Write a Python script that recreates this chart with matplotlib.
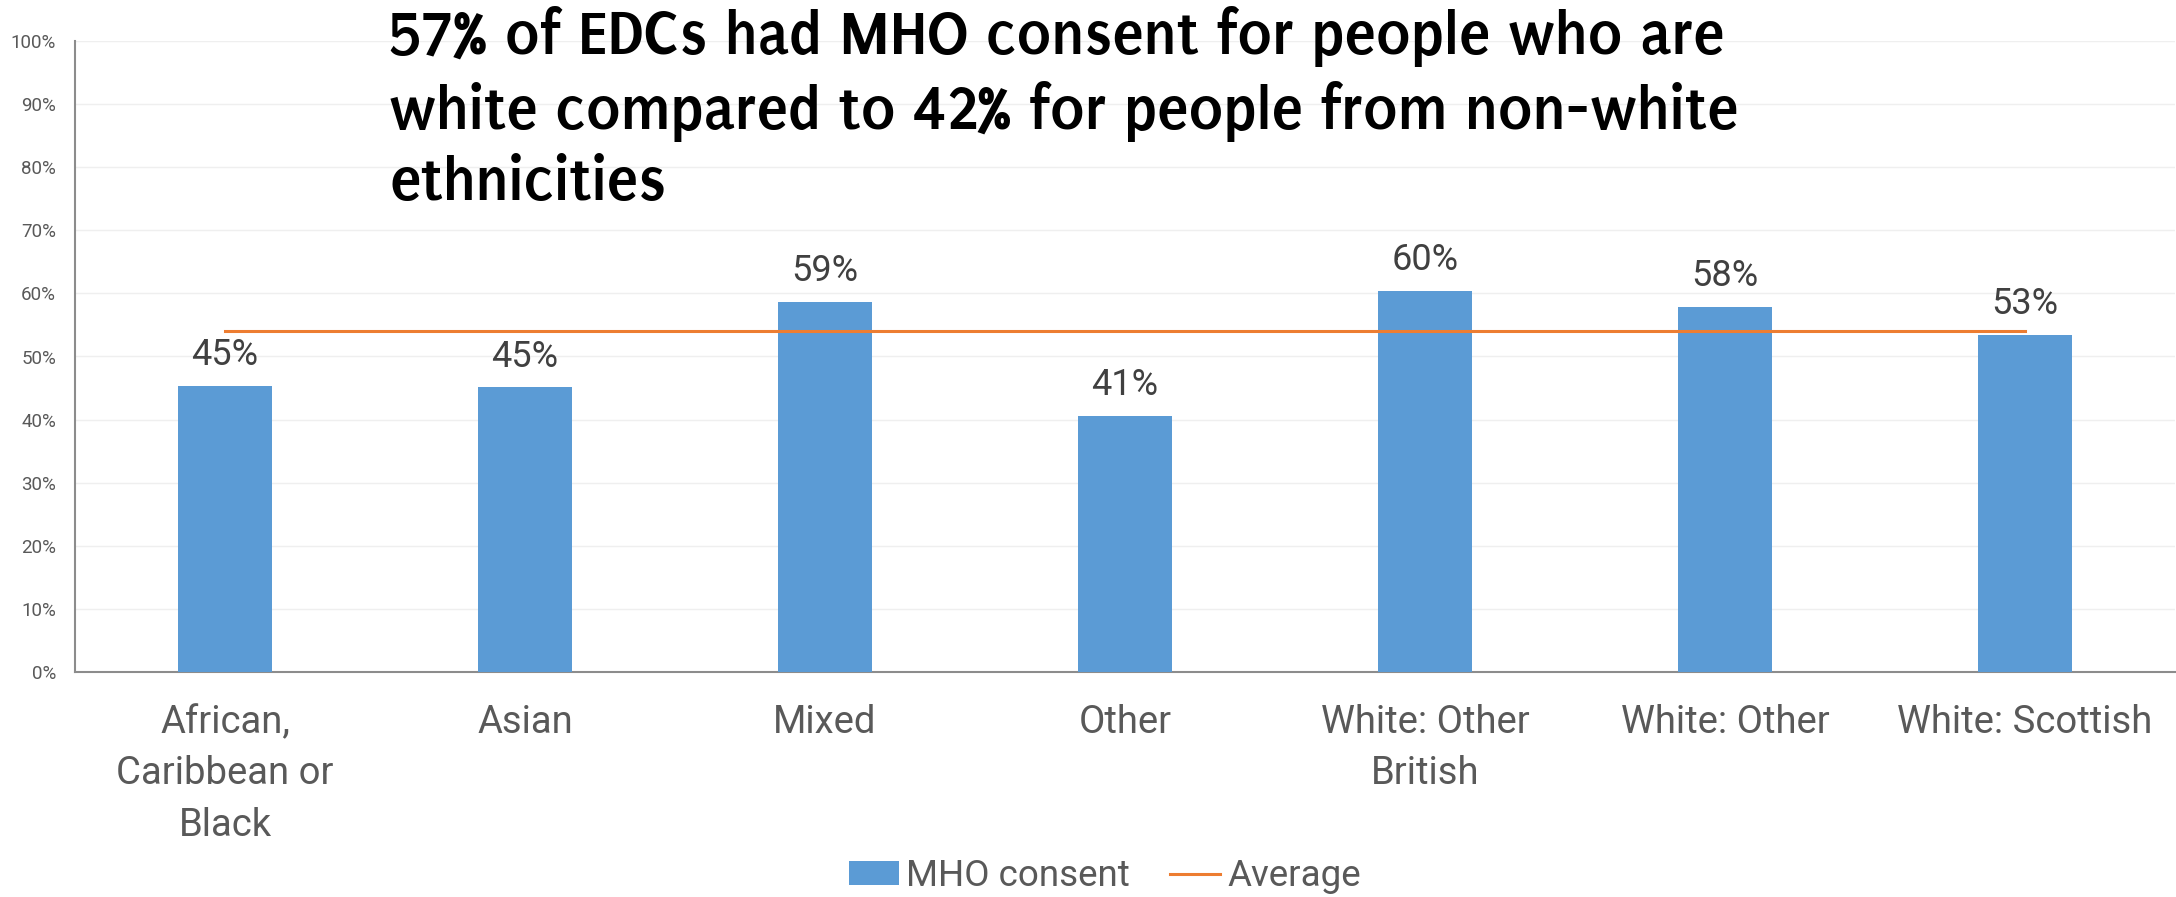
import matplotlib
matplotlib.use("Agg")
import matplotlib.pyplot as plt
from matplotlib import font_manager
from matplotlib.font_manager import FontProperties
from matplotlib.patches import Patch
from matplotlib.lines import Line2D
from matplotlib.ticker import PercentFormatter, MultipleLocator

categories = ["African,\nCaribbean or\nBlack", "Asian", "Mixed", "Other",
              "White: Other\nBritish", "White: Other", "White: Scottish"]
mho_consent = [45.4, 45.1, 58.6, 40.6, 60.4, 57.8, 53.4]
bar_labels = ["45%", "45%", "59%", "41%", "60%", "58%", "53%"]
average = 54.0
title_lines = ["57% of EDCs had MHO consent for people who are",
               "white compared to 42% for people from non-white",
               "ethnicities"]

plt.rcParams['font.family'] = ['Roboto', 'DejaVu Sans']

fig = plt.figure(figsize=(21.76, 8.97), dpi=100)
W, H = 2176, 897
ax = fig.add_axes([75 / W, 1 - 672 / H, 2100 / W, (672 - 41) / H])

x = list(range(len(categories)))
ax.bar(x, mho_consent, width=0.313, color="#5B9BD5", zorder=3)
ax.plot([x[0], x[-1]], [average, average], color="#ED7D31", lw=2.2, zorder=4)

for xi, v, lab in zip(x, mho_consent, bar_labels):
    ax.annotate(lab, (xi, v), xytext=(0, 15), textcoords="offset points",
                ha="center", va="baseline", fontsize=26, color="#404040", zorder=5)

ax.set_xlim(-0.5, len(categories) - 0.5)
ax.set_ylim(0, 100)
ax.yaxis.set_major_locator(MultipleLocator(10))
ax.yaxis.set_major_formatter(PercentFormatter(decimals=0))
ax.grid(axis="y", color="#efefef", lw=1.0, zorder=0)
ax.set_axisbelow(True)
ax.set_xticks(x)
ax.set_xticklabels(categories, fontsize=27.5, color="#595959", linespacing=1.5)
ax.tick_params(axis="x", length=0, pad=23)
ax.tick_params(axis="y", length=0, pad=13.5, labelsize=13.5, labelcolor="#595959")
for s in ["top", "right"]:
    ax.spines[s].set_visible(False)
for s in ["left", "bottom"]:
    ax.spines[s].set_color("#8c8c8c")
    ax.spines[s].set_linewidth(1.5)

# choose the bold sans font whose proportions best match the title
# (cap height ~41.5 px, first line ~1335 px wide)
renderer = fig.canvas.get_renderer()
best = None
seen = set()
for f in font_manager.fontManager.ttflist:
    key = (f.name, f.stretch)
    if key in seen or f.style != "normal":
        continue
    if not isinstance(f.weight, int) or not (650 <= f.weight <= 750):
        continue
    if any(s in f.name for s in ("Mono", "Serif", "CJK", "Math", "Display")):
        continue
    seen.add(key)
    p = FontProperties(family=f.name, weight="bold", stretch=f.stretch, size=40)
    try:
        _, ch, _ = renderer.get_text_width_height_descent("H", p, ismath=False)
        size = 40 * 41.5 / ch
        p.set_size(size)
        w1, _, _ = renderer.get_text_width_height_descent(title_lines[0], p, ismath=False)
    except Exception:
        continue
    err = abs(w1 - 1335)
    if best is None or err < best[0]:
        best = (err, f.name, f.stretch, size)

_, tfam, tstretch, tsize = best
prop = FontProperties(family=[tfam, "DejaVu Sans"], weight="bold",
                      stretch=tstretch, size=tsize)
_, lh, ld = renderer.get_text_width_height_descent("lp", prop, ismath=False)
lsp = (71 - ld) / (lh - ld)

fig.text(389 / W, 1 - 6 / H, "\n".join(title_lines), ha="left", va="top",
         fontproperties=prop, color="black", linespacing=lsp)

handles = [Patch(facecolor="#5B9BD5", edgecolor="none", label="MHO consent"),
           Line2D([], [], color="#ED7D31", lw=2.2, label="Average")]
fig.legend(handles=handles, loc="center", bbox_to_anchor=(1105 / W, 1 - 876 / H),
           ncol=2, frameon=False, fontsize=26.5, labelcolor="#595959",
           handlelength=1.35, handleheight=0.6, handletextpad=0.2,
           columnspacing=1.1, borderpad=0, borderaxespad=0)

fig.savefig("out.png", dpi=100)
